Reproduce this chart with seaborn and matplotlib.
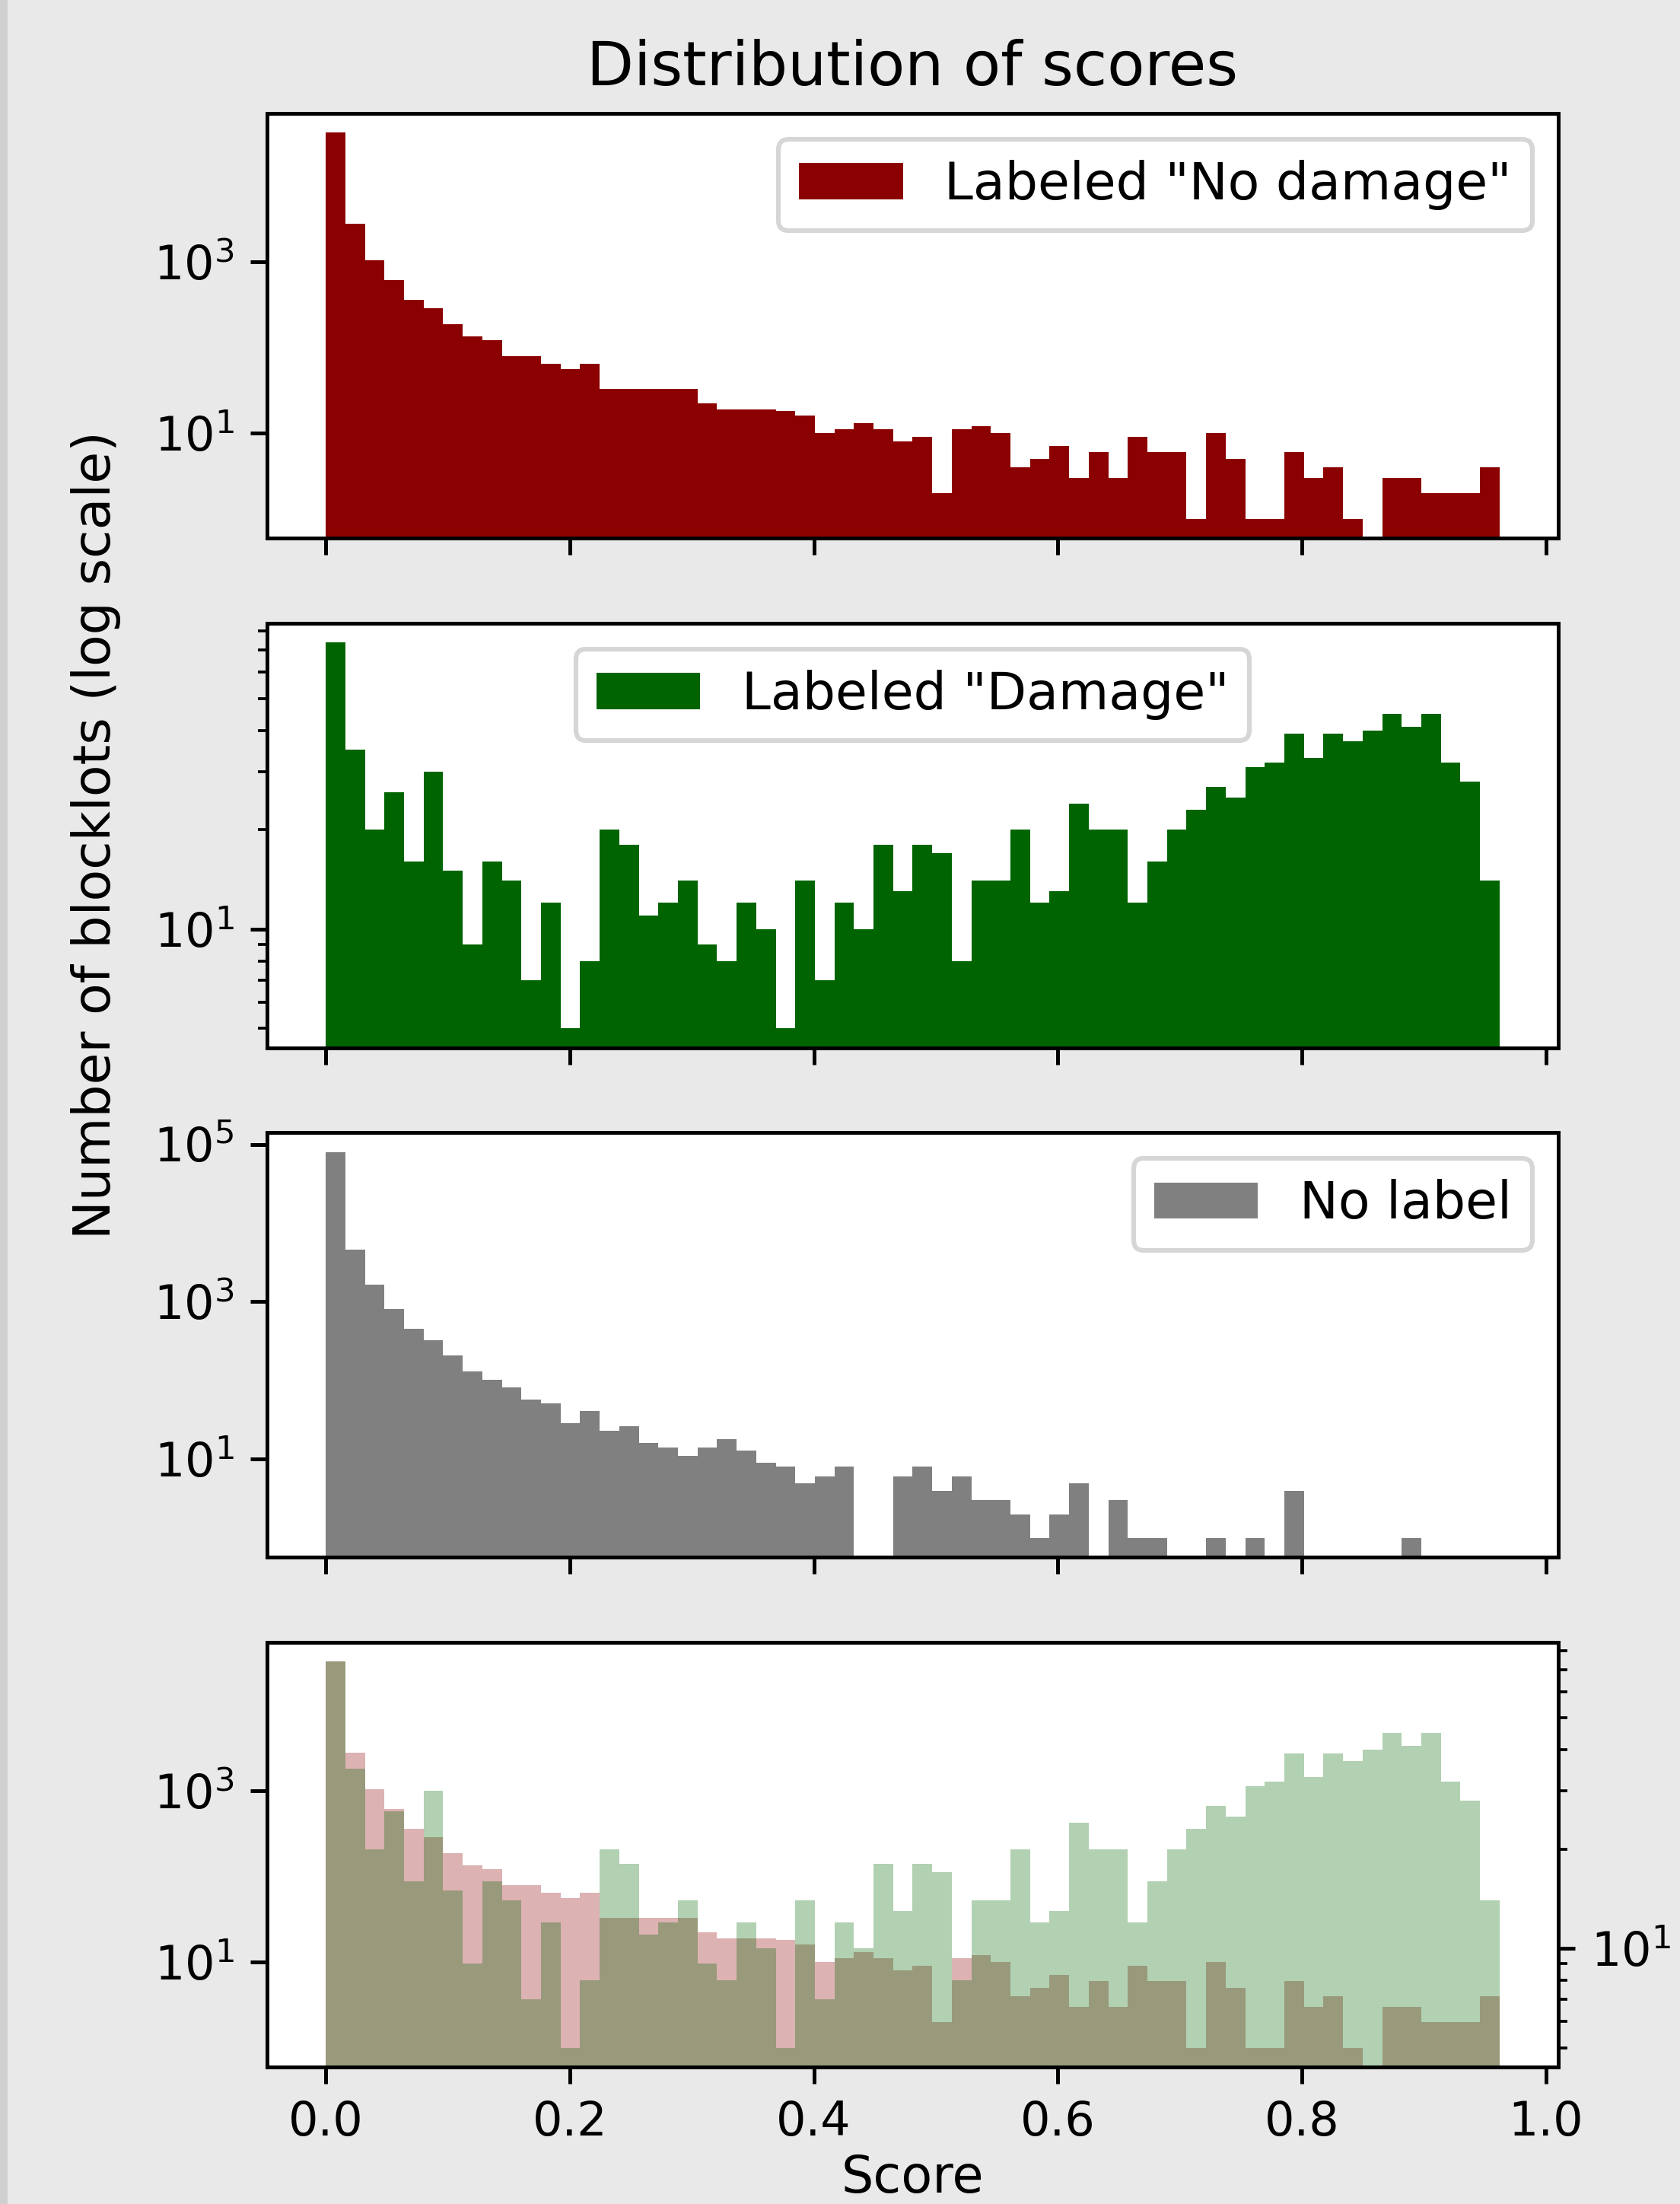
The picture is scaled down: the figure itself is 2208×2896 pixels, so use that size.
import numpy as np
import pandas as pd
import seaborn as sns
import matplotlib.pyplot as plt
from matplotlib.patches import Rectangle

# -----------------------
# 1. Data: bin counts per score bin
# -----------------------

N_BINS = 60
SCORE_MAX = 0.962

no_damage_counts = [32000, 2750, 1035, 608, 354, 286, 184, 135, 121, 78,
                    78, 64, 56, 64, 33, 33, 33, 33, 33, 22,
                    19, 19, 19, 18, 16, 10, 11, 13, 11, 8,
                    9, 2, 11, 12, 10, 4, 5, 7, 3, 6,
                    3, 9, 6, 6, 1, 10, 5, 1, 1, 6,
                    3, 4, 1, 0, 3, 3, 2, 2, 2, 4]

damage_counts = [74, 35, 20, 26, 16, 30, 15, 9, 16, 14,
                 7, 12, 5, 8, 20, 18, 11, 12, 14, 9,
                 8, 12, 10, 5, 14, 7, 12, 10, 18, 13,
                 18, 17, 8, 14, 14, 20, 12, 13, 24, 20,
                 20, 12, 16, 20, 23, 27, 25, 31, 32, 39,
                 33, 39, 37, 40, 45, 41, 45, 32, 28, 14]

no_label_counts = [80000, 4620, 1650, 811, 454, 324, 206, 129, 102, 82,
                   57, 51, 29, 41, 23, 26, 16, 14, 11, 14,
                   18, 13, 9, 8, 5, 6, 8, 0, 0, 6,
                   8, 4, 6, 3, 3, 2, 1, 2, 5, 0,
                   3, 1, 1, 0, 0, 1, 0, 1, 0, 4,
                   0, 0, 0, 0, 0, 1, 0, 0, 0, 0]

edges = np.linspace(0, SCORE_MAX, N_BINS + 1)
centers = (edges[:-1] + edges[1:]) / 2

df = pd.DataFrame({
    "score": centers,
    "no_damage": no_damage_counts,
    "damage": damage_counts,
    "no_label": no_label_counts,
})

# -----------------------
# 2. Figure
# -----------------------

DPI = 446
plt.rcParams["font.family"] = ["DejaVu Sans"]
plt.rcParams["legend.fontsize"] = 11

fig, axes = plt.subplots(4, 1, sharex=True, figsize=(2208 / DPI, 2896 / DPI), dpi=DPI)
fig.patch.set_facecolor("#e9e9e9")
fig.subplots_adjust(left=0.159, right=0.9275, top=0.9486, bottom=0.0622, hspace=0.2)
fig.patches.append(Rectangle((0, 0), 10 / 2208, 1, transform=fig.transFigure,
                             facecolor="#d0d0d0", edgecolor="none", zorder=-1))

hist_kws = dict(x="score", bins=N_BINS, binrange=(0, SCORE_MAX), linewidth=0)

panels = [
    ("no_damage", "darkred", 'Labeled "No damage"', "upper right"),
    ("damage", "darkgreen", 'Labeled "Damage"', "upper center"),
    ("no_label", "gray", "No label", "upper right"),
]

for ax, (col, color, label, loc) in zip(axes[:3], panels):
    sns.histplot(data=df, weights=col, color=color, alpha=1, label=label,
                 ax=ax, **hist_kws)
    ax.set_yscale("log")
    ax.legend(loc=loc)
    ax.set_xlabel("")
    ax.set_ylabel("")

# overlay: no damage on the left axis, damage on a twin axis
ax = axes[3]
sns.histplot(data=df, weights="no_damage", color="darkred", alpha=0.3, ax=ax, **hist_kws)
ax.set_yscale("log")
ax_tw = ax.twinx()
sns.histplot(data=df, weights="damage", color="darkgreen", alpha=0.3, ax=ax_tw, **hist_kws)
ax_tw.set_yscale("log")
ax_tw.set_ylabel("")
ax.set_ylabel("")
ax.set_xlabel("Score", fontsize=10.8, labelpad=1.5)

axes[1].set_ylabel("Number of blocklots (log scale)", fontsize=11, labelpad=7)
axes[0].set_title("Distribution of scores", fontsize=13)

fig.savefig("out.png", dpi=DPI, facecolor=fig.get_facecolor())
